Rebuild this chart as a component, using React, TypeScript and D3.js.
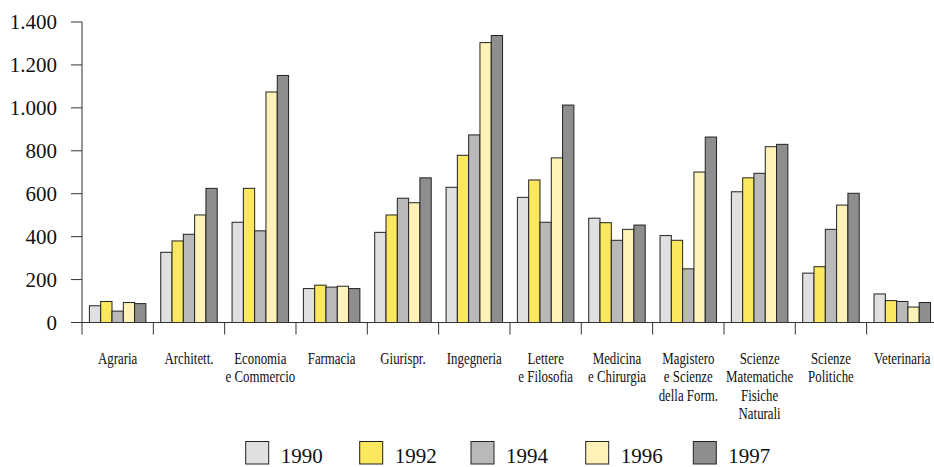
import React, { useEffect, useRef } from 'react';
import * as d3 from 'd3';

const categories = [
  'Agraria',
  'Architett.',
  'Economia\ne Commercio',
  'Farmacia',
  'Giurispr.',
  'Ingegneria',
  'Lettere\ne Filosofia',
  'Medicina\ne Chirurgia',
  'Magistero\ne Scienze\ndella Form.',
  'Scienze\nMatematiche\nFisiche\nNaturali',
  'Scienze\nPolitiche',
  'Veterinaria',
];

const years = ['1990', '1992', '1994', '1996', '1997'];

const values1990 = [78, 327, 467, 158, 420, 630, 583, 486, 405, 609, 230, 133];
const values1992 = [98, 380, 625, 174, 501, 779, 664, 465, 383, 674, 260, 102];
const values1994 = [53, 411, 427, 165, 579, 874, 467, 383, 250, 695, 434, 98];
const values1996 = [93, 501, 1074, 169, 558, 1304, 767, 434, 701, 819, 547, 72];
const values1997 = [88, 625, 1151, 158, 674, 1337, 1013, 454, 864, 830, 602, 93];

const seriesValues = [values1990, values1992, values1994, values1996, values1997];
const yTicks = [0, 200, 400, 600, 800, 1000, 1200, 1400];

const colors = ['#e0e0e0', '#fbe85e', '#b9b9b9', '#fff2b8', '#8e8e8e'];

export default function App() {
  const svgRef = useRef<SVGSVGElement>(null);

  useEffect(() => {
    if (!svgRef.current) return;
    drawChart();
  }, []);

  const drawChart = () => {
    const svg = d3.select(svgRef.current);
    svg.selectAll('*').remove();

    const width = 934;
    const height = 467;
    const left = 82;
    const top = 22;
    const bottom = 322.5;
    const font = '"Liberation Serif"';

    svg.attr('width', width).attr('height', height);

    const x = d3
      .scaleBand()
      .domain(categories)
      .range([left, left + 12 * 71.33]);

    const xYear = d3
      .scaleBand()
      .domain(years)
      .range([7.4, 63.9]);

    const y = d3.scaleLinear().domain([0, 1400]).range([bottom, top]);

    // bars
    categories.forEach((cat, ci) => {
      const g = svg.append('g').attr('transform', `translate(${x(cat)},0)`);
      years.forEach((yr, si) => {
        const v = seriesValues[si][ci];
        g.append('rect')
          .attr('x', xYear(yr) as number)
          .attr('y', y(v))
          .attr('width', xYear.bandwidth())
          .attr('height', bottom - y(v))
          .attr('fill', colors[si])
          .attr('stroke', '#222')
          .attr('stroke-width', 1);
      });
    });

    // y axis
    svg.append('line')
      .attr('x1', left).attr('x2', left)
      .attr('y1', top).attr('y2', bottom)
      .attr('stroke', '#333');

    yTicks.forEach((t) => {
      svg.append('line')
        .attr('x1', left - 11).attr('x2', left)
        .attr('y1', y(t)).attr('y2', y(t))
        .attr('stroke', '#333');
      svg.append('text')
        .attr('x', 57)
        .attr('y', y(t) + 7)
        .attr('text-anchor', 'end')
        .style('font-family', font)
        .style('font-size', '21px')
        .style('fill', '#111')
        .text(d3.format(',')(t).replace(/,/g, '.'));
    });

    // x axis
    svg.append('line')
      .attr('x1', left - 11).attr('x2', width)
      .attr('y1', bottom).attr('y2', bottom)
      .attr('stroke', '#333');

    categories.forEach((cat) => {
      const x0 = x(cat) as number;
      svg.append('line')
        .attr('x1', x0).attr('x2', x0)
        .attr('y1', bottom).attr('y2', bottom + 12)
        .attr('stroke', '#333');

      const lbl = svg
        .append('g')
        .attr('transform', `translate(${x0 + x.bandwidth() / 2},364) scale(0.78,1)`);
      cat.split('\n').forEach((line, li) => {
        lbl.append('text')
          .attr('x', 0)
          .attr('y', li * 18.3)
          .attr('text-anchor', 'middle')
          .style('font-family', font)
          .style('font-size', '16.5px')
          .style('fill', '#111')
          .text(line);
      });
    });

    // legend
    const legendX = [245.7, 359.7, 471, 585.7, 693.3];
    years.forEach((yr, i) => {
      svg.append('rect')
        .attr('x', legendX[i])
        .attr('y', 441.5)
        .attr('width', 23)
        .attr('height', 22.5)
        .attr('fill', colors[i])
        .attr('stroke', '#222');
      svg.append('text')
        .attr('x', legendX[i] + 35)
        .attr('y', 463)
        .style('font-family', font)
        .style('font-size', '21px')
        .style('fill', '#111')
        .text(yr);
    });
  };

  return (
    <svg ref={svgRef} style={{ position: 'absolute', left: 0, top: 0 }}></svg>
  );
}
